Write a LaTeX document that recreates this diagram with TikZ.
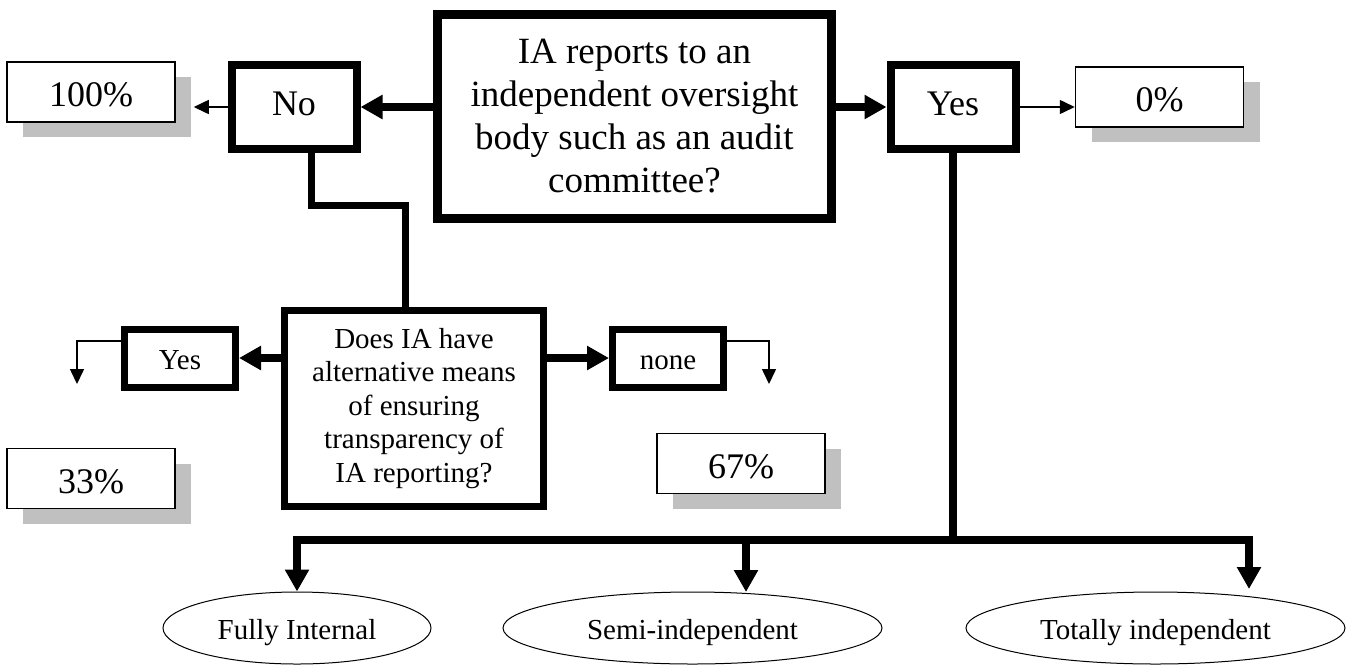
\documentclass[tikz,border=0pt]{standalone}
\usepackage{fontspec}
\setmainfont{Liberation Serif}
\usetikzlibrary{arrows.meta,shapes.geometric,shadows}
\definecolor{shadowgrey}{RGB}{192,192,192}

\begin{document}
\begin{tikzpicture}[x=1pt,y=-1pt,
    fat/.style={line width=8pt},
    fatarrow/.style={line width=8pt,-{Triangle[length=22pt,width=23pt]}},
    thinarrow/.style={line width=1.5pt,-{Triangle[length=15pt,width=14pt]}},
    bigq/.style={draw,line width=9pt,align=center,inner sep=0pt,
        font=\fontsize{37}{43}\selectfont,minimum width=394pt,minimum height=204pt},
    answer/.style={draw,line width=8pt,font=\fontsize{36}{42}\selectfont,
        text height=25pt,text depth=9pt,minimum width=125pt,minimum height=84pt},
    subq/.style={draw,line width=7pt,align=center,inner sep=0pt,
        font=\fontsize{29}{33.5}\selectfont,minimum width=259pt,minimum height=196pt},
    subanswer/.style={draw,line width=7pt,font=\fontsize{29}{33.5}\selectfont,
        text height=27.5pt,text depth=3.8pt,minimum width=111pt,minimum height=58pt},
    pctbox/.style={draw,line width=1.5pt,fill=white,font=\fontsize{36}{42}\selectfont,
        text height=34pt,text depth=4.7pt,minimum width=168pt,minimum height=60pt,
        general shadow={fill=shadowgrey,shadow xshift=16pt,shadow yshift=-15pt}},
    outcome/.style={draw,ellipse,line width=1pt,inner sep=0pt,
        text height=27.5pt,text depth=3.8pt,
        font=\fontsize{29}{33.5}\selectfont,minimum height=72pt}]
    \useasboundingbox (0,0) rectangle (1349,665);

    % Main question
    \node[bigq] (main) at (634.5,116.5) {IA reports to an\\independent oversight\\body such as an audit\\committee?};
    \node[answer] (no) at (294,107) {No};
    \node[answer] (yesA) at (953,107) {Yes};
    \node[pctbox] (p100) at (91,92) {100\%};
    \node[pctbox] (p0) at (1159.5,97) {0\%};

    % Follow-up question
    \node[subq] (ask) at (414,408.5) {Does IA have\\alternative means\\of ensuring\\transparency of\\IA reporting?};
    \node[subanswer] (yesB) at (180,358) {Yes};
    \node[subanswer] (none) at (668,358) {none};
    \node[pctbox] (p33) at (91,478.5) {33\%};
    \node[pctbox] (p67) at (741,463.5) {67\%};

    % Outcomes
    \node[outcome,minimum width=268pt] (full) at (297,628) {Fully Internal};
    \node[outcome,minimum width=379pt] (semi) at (692.5,628) {Semi-independent};
    \node[outcome,minimum width=379pt] (total) at (1155.5,628) {Totally independent};

    \coordinate (bar) at (955,540);
    \coordinate (semiarrow) at (746,592);
    \coordinate (totalarrow) at (1249,589);
    \coordinate (yesBdown) at (77,384);
    \coordinate (nonedown) at (769,384);

    % Connectors
    \draw[fatarrow] (main.west |- no.east) -- (no.east);
    \draw[fatarrow] (main.east |- yesA.west) -- (yesA.west);
    \draw[thinarrow] (no.west) -- ([xshift=18pt]p100.east |- no.west);
    \draw[thinarrow] (yesA.east) -- (yesA.east -| p0.west);
    \draw[line width=7pt] ([xshift=17pt]no.south) -- ++(0,52) -| ([xshift=-9pt]ask.north);
    \draw[fatarrow] (ask.west |- yesB.east) -- (yesB.east);
    \draw[fatarrow] (ask.east |- none.west) -- (none.west);
    \draw[thinarrow] ([yshift=17pt]yesB.west) -| (yesBdown);
    \draw[thinarrow] ([yshift=17pt]none.east) -| (nonedown);
    \draw[fat] (yesA.south) -- (yesA.south |- bar);
    \draw[fat,{Triangle[length=22pt,width=23pt]}-{Triangle[length=22pt,width=23pt]}]
        (full.north) -- (full.north |- bar) -- (totalarrow |- bar) -- (totalarrow);
    \draw[fatarrow] (semiarrow |- bar) -- (semiarrow);
\end{tikzpicture}
\end{document}
